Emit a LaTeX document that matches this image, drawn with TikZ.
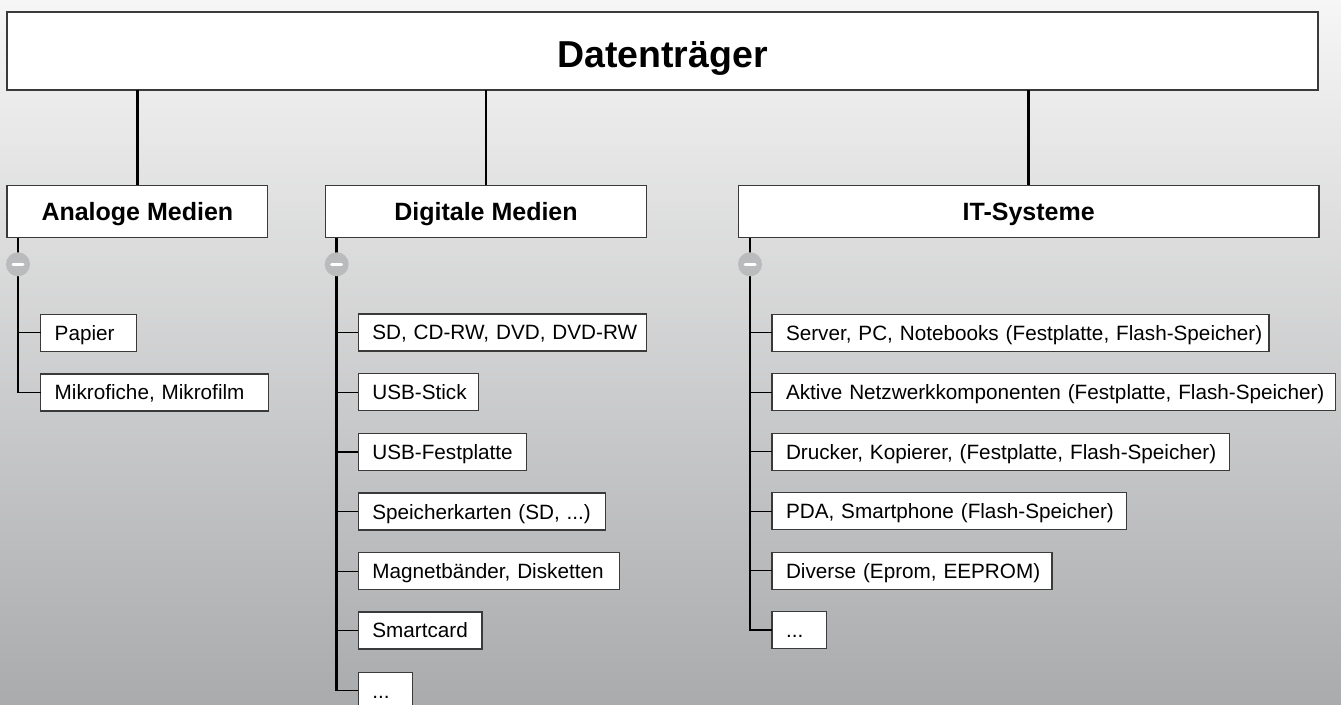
\documentclass[tikz,border=0pt]{standalone}
\usepackage{fontspec}
\setmainfont{Liberation Sans}
\definecolor{bgtop}{RGB}{246,246,246}
\definecolor{bgbot}{RGB}{170,171,173}
\definecolor{boxc}{RGB}{58,58,58}
\definecolor{circc}{RGB}{186,187,189}
\tikzset{
  boxbase/.style={draw=boxc, line width=1.3pt, fill=white, inner sep=0pt, outer sep=0pt},
  titlebox/.style={boxbase, minimum width=1311pt, minimum height=78pt,
    font=\fontsize{37.5pt}{40pt}\selectfont\bfseries, text height=26.9pt, text depth=0pt},
  headbox/.style={boxbase, minimum width=#1, minimum height=52.4pt,
    font=\fontsize{25pt}{28pt}\selectfont\bfseries, text height=17.9pt, text depth=0pt},
  itembox/.style={boxbase, inner xsep=14pt, inner ysep=0pt, text width=#1, align=left,
    minimum height=37pt, anchor=north west,
    font=\fontsize{20.7pt}{23pt}\selectfont, text height=14.8pt, text depth=0pt},
  conn/.style={line width=2.7pt, draw=black},
  trunk/.style={line width=2.6pt, draw=black},
  branch/.style={line width=1.2pt, draw=black},
  minus/.style={circle, fill=circc, minimum size=24pt, inner sep=0pt, outer sep=0pt,
    path picture={\draw[white, line width=3pt, line cap=round]
      ([xshift=-5pt]path picture bounding box.center) -- ([xshift=5pt]path picture bounding box.center);}}
}
\begin{document}
\begin{tikzpicture}[x=1pt, y=-1pt]
\shade[top color=bgtop, bottom color=bgbot] (0,0) rectangle (1341,704);
\useasboundingbox (0,0) rectangle (1341,704);

% title and headers
\node[titlebox] (title) at (662.5,51) {\raisebox{-2.6pt}{Datenträger}};
\node[headbox=260.7pt] (analog) at (137.35,211.5) {Analoge Medien};
\node[headbox=321.4pt] (digital) at (486,211.5) {Digitale Medien};
\node[headbox=580.6pt] (it) at (1028.7,211.5) {IT-Systeme};

\draw[conn] (title.south -| analog.north) -- (analog.north);
\draw[conn] (title.south -| digital.north) -- (digital.north);
\draw[conn] (title.south -| it.north) -- (it.north);

% analog items
\node[itembox=68pt] (a1) at (40.7,314.3) {\mbox{Papier}};
\node[itembox=199.6pt] (a2) at (40.7,374) {\mbox{Mikrofiche, Mikrofilm}};

% digital items
\node[itembox=260.4pt] (d1) at (358.3,314) {\mbox{SD, CD-RW, DVD, DVD-RW}};
\node[itembox=92pt] (d2) at (358.3,373.7) {\mbox{USB-Stick}};
\node[itembox=140.4pt] (d3) at (358.3,433.4) {\mbox{USB-Festplatte}};
\node[itembox=219pt] (d4) at (358.3,493.1) {\mbox{Speicherkarten (SD, ...)}};
\node[itembox=233pt] (d5) at (358.3,552.8) {\mbox{Magnetbänder, Disketten}};
\node[itembox=95.7pt] (d6) at (358.3,612) {\mbox{Smartcard}};
\node[itembox=26.4pt] (d7) at (358.3,672.2) {\mbox{...}};

% IT items
\node[itembox=469pt] (i1) at (772,314.3) {\mbox{Server, PC, Notebooks (Festplatte, Flash-Speicher)}};
\node[itembox=535.7pt] (i2) at (772,373.7) {\mbox{Aktive Netzwerkkomponenten (Festplatte, Flash-Speicher)}};
\node[itembox=429.7pt] (i3) at (772,433.3) {\mbox{Drucker, Kopierer, (Festplatte, Flash-Speicher)}};
\node[itembox=326.7pt] (i4) at (772,492.7) {\mbox{PDA, Smartphone (Flash-Speicher)}};
\node[itembox=252pt] (i5) at (772,552.3) {\mbox{Diverse (Eprom, EEPROM)}};
\node[itembox=26.3pt] (i6) at (772,611.5) {\mbox{...}};

% trunks
\coordinate (ta) at ([xshift=11pt]analog.south west);
\coordinate (td) at ([xshift=11.4pt]digital.south west);
\coordinate (ti) at ([xshift=11.6pt]it.south west);

\draw[trunk] (ta) -- ([yshift=-0.6pt]ta |- a2.west);
\draw[trunk] (td) -- ([yshift=-0.6pt]td |- d7.west);
\draw[trunk] (ti) -- ([yshift=-0.6pt]ti |- i6.west);

\foreach \n in {a1,a2} \draw[branch] (ta |- \n.west) -- (\n.west);
\foreach \n in {d1,d2,d3,d4,d5,d6,d7} \draw[branch] (td |- \n.west) -- (\n.west);
\foreach \n in {i1,i2,i3,i4,i5,i6} \draw[branch] (ti |- \n.west) -- (\n.west);

% collapse markers
\node[minus] (ma) at ([yshift=-26.6pt]ta) {};
\node[minus] (md) at ([yshift=-26.6pt]td) {};
\node[minus] (mi) at ([yshift=-26.6pt]ti) {};
\end{tikzpicture}
\end{document}
